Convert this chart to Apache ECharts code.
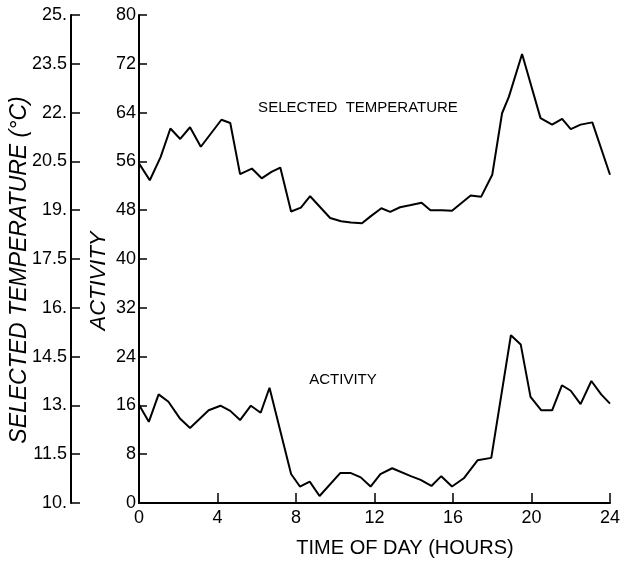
<!DOCTYPE html>
<html>
<head>
<meta charset="utf-8">
<script src="https://cdn.jsdelivr.net/npm/echarts@6/dist/echarts.min.js"></script>
<style>html,body{margin:0;padding:0;background:#fff}#chart{width:632px;height:565px}</style>
</head>
<body>
<div id="chart"></div>
<script>
	// selected temperature (deg C) by time of day
	var tempHours = [0,0.55,1.1,1.6,2.1,2.6,3.15,4.2,4.65,5.15,5.75,6.25,6.75,7.2,7.75,8.25,8.72,9.74,10.3,10.8,11.36,11.8,12.35,12.8,13.3,13.8,14.4,14.85,15.44,15.95,16.9,17.43,18.0,18.5,18.85,19.52,20.46,21.05,21.56,22.0,22.5,23.1,24.0];
	var tempValues = [20.44,19.92,20.63,21.51,21.19,21.55,20.95,21.78,21.68,20.11,20.28,19.98,20.18,20.31,18.96,19.08,19.43,18.76,18.66,18.62,18.6,18.81,19.06,18.95,19.09,19.15,19.23,19.0,19.0,18.98,19.45,19.41,20.09,21.98,22.49,23.8,21.83,21.63,21.81,21.49,21.63,21.7,20.09];
	// activity by time of day
	var actHours = [0,0.5,1.0,1.5,2.1,2.6,3.55,4.15,4.65,5.15,5.7,6.2,6.65,7.75,8.2,8.7,9.2,10.25,10.8,11.3,11.8,12.3,12.9,13.85,14.35,14.9,15.4,15.95,16.55,17.25,17.95,18.95,19.45,19.95,20.5,21.05,21.55,22.0,22.5,23.05,23.55,24.0];
	var actValues = [16.1,13.3,17.8,16.6,13.8,12.3,15.2,15.95,15.1,13.6,15.95,14.8,18.9,4.75,2.7,3.5,1.15,4.9,4.9,4.2,2.7,4.75,5.7,4.4,3.8,2.8,4.4,2.7,4.05,7.0,7.4,27.5,26.0,17.4,15.2,15.2,19.3,18.4,16.2,20.0,17.8,16.3];

	function pairs(xs, ys){
		var out = [];
		for (var i = 0; i < xs.length; i++) out.push([xs[i], ys[i]]);
		return out;
	}

	var font = 'Liberation Sans';

	var myChart = echarts.init(document.getElementById('chart'));
	option = {
		backgroundColor:'#fff',
		animation:false,
		grid:{left:139,right:22,top:15,bottom:62},
		xAxis:{type:'value',min:0,max:24,interval:4,
			axisLine:{lineStyle:{color:'#000',width:2}},
			axisTick:{inside:true,length:10,lineStyle:{color:'#000',width:1.5}},
			axisLabel:{fontFamily:font,fontSize:18,color:'#000',margin:6},
			splitLine:{show:false}},
		yAxis:[
			{type:'value',min:0,max:80,interval:8,position:'left',
				axisLine:{show:true,lineStyle:{color:'#000',width:2}},
				axisTick:{show:true,inside:true,length:8,lineStyle:{color:'#000',width:1.5}},
				axisLabel:{fontFamily:font,fontSize:18,color:'#000',margin:3},
				splitLine:{show:false}},
			{type:'value',min:10,max:25,interval:1.5,position:'left',offset:68,
				axisLine:{show:true,lineStyle:{color:'#000',width:2}},
				axisTick:{show:true,inside:true,length:9,lineStyle:{color:'#000',width:1.5}},
				axisLabel:{fontFamily:font,fontSize:18,color:'#000',margin:4,
					formatter:function(v){ return (Math.round(v*10)%10===0) ? Math.round(v)+'.' : v.toFixed(1); }},
				splitLine:{show:false}}
		],
		graphic:[
			{type:'text',x:20,y:270,rotation:Math.PI/2,
				style:{text:'SELECTED TEMPERATURE (°C)',fontFamily:font,fontSize:23,fontStyle:'italic',fill:'#000',align:'center',verticalAlign:'middle'}},
			{type:'text',x:99,y:281,rotation:Math.PI/2,
				style:{text:'ACTIVITY',fontFamily:font,fontSize:22,fontStyle:'italic',fill:'#000',align:'center',verticalAlign:'middle'}},
			{type:'text',x:405,y:548,
				style:{text:'TIME OF DAY (HOURS)',fontFamily:font,fontSize:20,fill:'#000',align:'center',verticalAlign:'middle'}},
			{type:'text',x:358,y:108,
				style:{text:'SELECTED  TEMPERATURE',fontFamily:font,fontSize:15,fill:'#000',align:'center',verticalAlign:'middle'}},
			{type:'text',x:343,y:380,
				style:{text:'ACTIVITY',fontFamily:font,fontSize:15,fill:'#000',align:'center',verticalAlign:'middle'}}
		],
		series:[
			{type:'line',yAxisIndex:1,data:pairs(tempHours,tempValues),symbol:'none',
				lineStyle:{color:'#000',width:2}},
			{type:'line',yAxisIndex:0,data:pairs(actHours,actValues),symbol:'none',
				lineStyle:{color:'#000',width:2}}
		]
	};
	myChart.setOption(option);
</script>
</body>
</html>
